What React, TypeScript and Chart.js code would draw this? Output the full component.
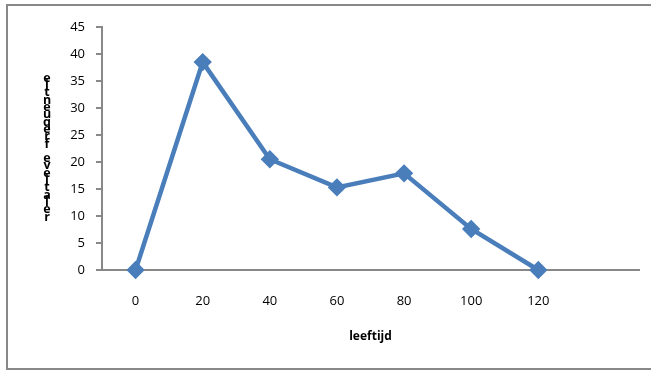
import React, { useEffect, useRef } from "react";
import { Chart, registerables } from "chart.js";

Chart.register(...registerables);

const categories: string[] = ["0", "20", "40", "60", "80", "100", "120", ""];
const values: (number | null)[] = [0, 38.5, 20.5, 15.3, 17.9, 7.6, 0, null];
const yTitle = "relatieve frequentie";
const xTitle = "leeftijd";
const FONT = "'Open Sans', 'Liberation Sans', sans-serif";

const decorPlugin = {
  id: "decor",
  beforeDraw(chart: any) {
    const ctx = chart.ctx;
    ctx.save();
    ctx.strokeStyle = "#888888";
    ctx.lineWidth = 2;
    ctx.strokeRect(7, 5, 700, 364);
    ctx.restore();
  },
  afterDraw(chart: any) {
    const ctx = chart.ctx;
    const area = chart.chartArea;
    ctx.save();
    ctx.fillStyle = "#000000";
    ctx.font = `bold 12px ${FONT}`;
    ctx.textAlign = "center";
    ctx.textBaseline = "middle";
    ctx.fillText(xTitle, (area.left + area.right) / 2, 337);
    // stacked upright letters, bottom to top
    ctx.font = `bold 12.5px ${FONT}`;
    const chars = yTitle.split("");
    const bottom = 217;
    const step = 7.3;
    chars.forEach((c, i) => {
      if (c === " ") return;
      ctx.fillText(c, 47, bottom - i * step);
    });
    ctx.restore();
  },
};

export default function App() {
  const ref = useRef<HTMLCanvasElement | null>(null);
  useEffect(() => {
    document.body.style.margin = "0";
    if (!ref.current) return;
    const chart = new Chart(ref.current, {
      type: "line",
      data: {
        labels: categories,
        datasets: [
          {
            data: values,
            borderColor: "#4a7ebb",
            backgroundColor: "#4a7ebb",
            borderWidth: 4.5,
            pointStyle: "rectRot",
            pointRadius: 6,
            pointBackgroundColor: "#4a7ebb",
            pointBorderColor: "#4a7ebb",
            tension: 0,
            clip: false as any,
          },
        ],
      },
      options: {
        responsive: false,
        animation: false,
        layout: { padding: { left: 0, right: 12, top: 27, bottom: 0 } },
        plugins: { legend: { display: false }, tooltip: { enabled: false } },
        scales: {
          x: {
            offset: true,
            grid: { display: true, drawOnChartArea: false, drawTicks: false, color: "rgba(0,0,0,0)" },
            border: { display: true, color: "#888888", width: 2 },
            ticks: { padding: 23, color: "#000000", font: { family: FONT, size: 13 }, maxRotation: 0, autoSkip: false },
            afterFit: (s: any) => {
              s.height = 102;
            },
          },
          y: {
            min: 0,
            max: 45,
            grid: { display: true, drawOnChartArea: false, drawTicks: true, tickLength: 6, color: "#888888", lineWidth: 2 },
            border: { display: true, color: "#888888", width: 2 },
            ticks: { stepSize: 5, padding: 11, color: "#000000", font: { family: FONT, size: 13 } },
            afterFit: (s: any) => {
              s.width = 102;
            },
          },
        },
      },
      plugins: [decorPlugin],
    });
    return () => chart.destroy();
  }, []);
  return <canvas ref={ref} width={651} height={372} style={{ display: "block" }} />;
}
